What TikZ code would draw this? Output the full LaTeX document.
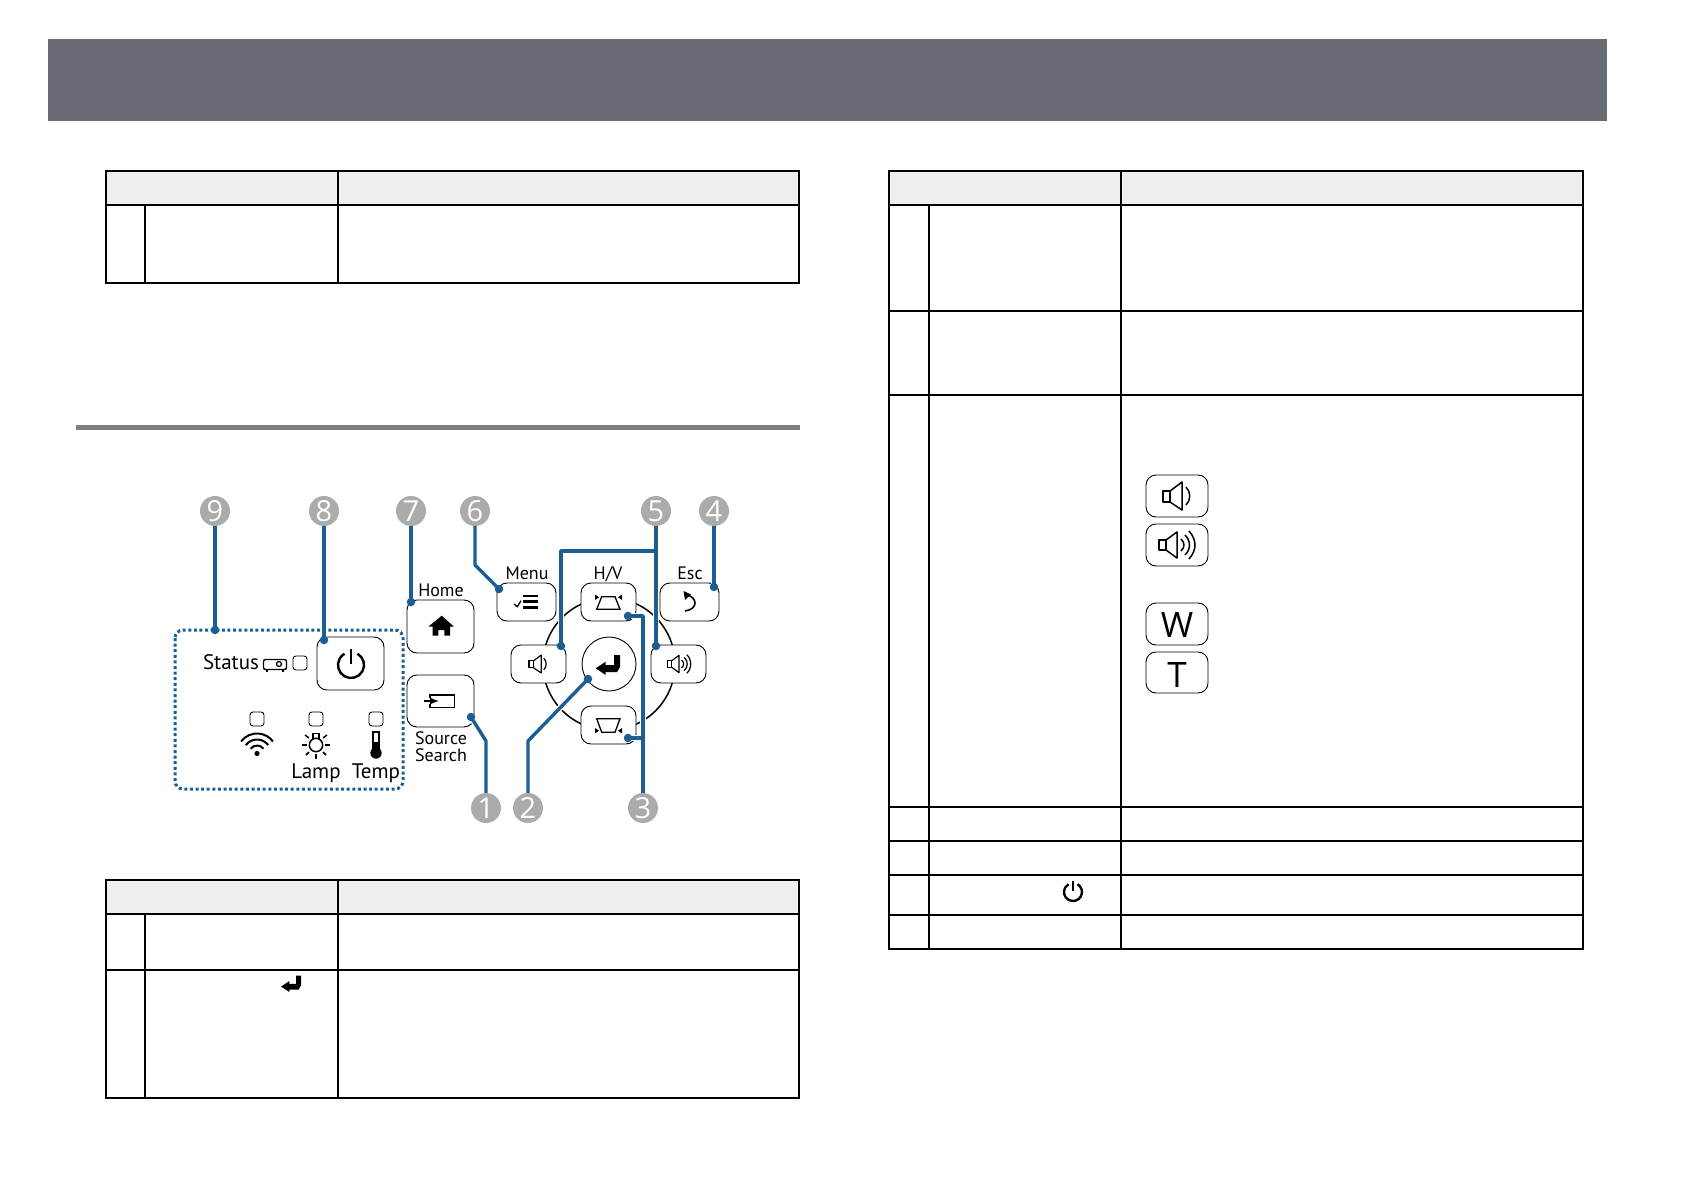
\documentclass[tikz,border=0pt]{standalone}
\usepackage{fontspec}
\usepackage{xcolor}
\setmainfont{Open Sans}
\newfontfamily\keyfont{PT Sans}
\definecolor{bandgrey}{HTML}{686B73}
\definecolor{rulegrey}{HTML}{808080}
\definecolor{headgrey}{HTML}{EFEFEF}
\definecolor{badgegrey}{HTML}{ABABAB}
\definecolor{leadblue}{HTML}{1A5E94}
\tikzset{
  cell/.style={draw=black, line width=2pt},
  head/.style={fill=headgrey, draw=black, line width=2pt},
  badge/.style={circle, fill=badgegrey, text=white, inner sep=0pt, minimum size=30pt, font=\fontsize{29}{29}\selectfont},
  leaddot/.style={circle, fill=leadblue, inner sep=0pt, minimum size=8.5pt},
  leaderbare/.style={draw=leadblue, line width=3.4pt, line join=round},
  leader/.style={leaderbare, preaction={draw=white, line width=6pt}},
  keybox/.style={draw=black, line width=0.9pt, rounded corners=10pt, fill=white},
  led/.style={draw=black, line width=0.9pt, rounded corners=3pt, fill=white, minimum size=14pt, inner sep=0pt},
  keylabel/.style={inner sep=0pt, font=\keyfont\fontsize{18}{18}\selectfont},
  biglabel/.style={inner sep=0pt, font=\keyfont\fontsize{21}{21}\selectfont},
  glyph/.style={draw=black, line width=1.5pt, line join=round},
  powericon/.pic={
    \draw[line width=2.4pt] (-60:1) arc[start angle=-60, end angle=240, radius=1];
    \draw[line width=2.6pt] (0,-1.25) -- (0,-0.1);
  },
  entericon/.pic={
    \fill (-13.3,4.3) -- (-3.3,-2.3) -- (-3.3,1) -- (5,1) -- (5,-9) -- (11,-9) -- (11,3) -- (8,8) -- (-3.3,8) -- (-3.3,11) -- cycle;
  },
  voldown/.pic={
    \draw[glyph] (-14,-5) rectangle (-7,6);
    \draw[glyph] (-7,-5) -- (5,-14) -- (5,14) -- (-7,6);
    \draw[glyph] (9,-9) .. controls (14,-4) and (14,4) .. (9,9);
  },
  volup/.pic={
    \draw[glyph] (-18,-5) rectangle (-11,5);
    \draw[glyph] (-11,-5) -- (0,-13) -- (0,13) -- (-11,5);
    \draw[glyph] (4,-6) .. controls (8,-2) and (8,2) .. (4,6);
    \draw[glyph] (8,-10) .. controls (14,-4) and (14,4) .. (8,10);
    \draw[glyph] (12,-14) .. controls (20,-5) and (20,5) .. (12,14);
  },
}
\begin{document}
\begin{tikzpicture}[x=1pt,y=-1pt]
\useasboundingbox (0,0) rectangle (1684,1190);

% page band and section rule
\fill[bandgrey] (48,39) rectangle (1607,121);
\fill[rulegrey] (76,425) rectangle (800,430);

% left tables
\draw[head] (106,171) rectangle (338,205);
\draw[head] (338,171) rectangle (799,205);
\draw[cell] (106,205) rectangle (799,283);
\draw[cell] (145,205) -- (145,283);
\draw[cell] (338,205) -- (338,283);

\draw[head] (106,880) rectangle (338,914);
\draw[head] (338,880) rectangle (799,914);
\draw[cell] (106,914) rectangle (799,1098);
\draw[cell] (106,970) -- (799,970);
\draw[cell] (145,914) -- (145,1098);
\draw[cell] (338,914) -- (338,1098);
\pic[scale=0.82] at (292,983) {entericon};

% right table
\draw[head] (889,171) rectangle (1121,205);
\draw[head] (1121,171) rectangle (1583,205);
\draw[cell] (889,205) rectangle (1583,949);
\draw[cell] (889,311) -- (1583,311);
\draw[cell] (889,395) -- (1583,395);
\draw[cell] (889,807) -- (1583,807);
\draw[cell] (889,841) -- (1583,841);
\draw[cell] (889,875) -- (1583,875);
\draw[cell] (889,915) -- (1583,915);
\draw[cell] (929,205) -- (929,949);
\draw[cell] (1121,205) -- (1121,949);
\pic[scale=9] at (1073,892) {powericon};

\draw[keybox] (1146,475) rectangle (1208,517);
\draw[keybox] (1146,524) rectangle (1208,566);
\draw[keybox] (1146,603) rectangle (1208,645);
\draw[keybox] (1146,652) rectangle (1208,693);
\pic at (1177,496) {voldown};
\pic at (1177,545) {volup};
\node[inner sep=0pt, font=\fontsize{35}{35}\selectfont] (keyw) at (1177,625) {W};
\node[inner sep=0pt, font=\fontsize{35}{35}\selectfont] (keyt) at (1177,675) {T};

% control panel
\draw[leadblue, line width=3pt, dash pattern=on 3pt off 2.6pt, rounded corners=8pt] (175,630) rectangle (403,789);
\draw[black, line width=1.5pt] (609,664) circle (66);

\draw[keybox] (317,637) rectangle (384,690);
\draw[keybox] (407,600) rectangle (474,653);
\draw[keybox] (407,675) rectangle (474,727);
\draw[keybox] (497,583) rectangle (556,621);
\draw[keybox] (581,583) rectangle (636,621);
\draw[keybox] (660,583) rectangle (719,621);
\draw[keybox] (511,645) rectangle (566,683);
\draw[keybox] (651,645) rectangle (706,683);
\draw[keybox] (581,706) rectangle (636,744);
\draw[black, line width=0.9pt, fill=white] (609,664) circle (27);

\node[biglabel] (status) at (231,662) {Status};
\node[keylabel] (home) at (441,590) {Home};
\node[keylabel] (source) at (441,738) {Source};
\node[keylabel] (search) at (441,755) {Search};
\node[keylabel] (menu) at (527,573) {Menu};
\node[keylabel] (hv) at (608,574) {H/V};
\node[keylabel] (esc) at (690,573) {Esc};
\node[biglabel] (lamp) at (316,773) {Lamp};
\node[biglabel] (temp) at (376,773) {Temp};

\node[led] (ledstatus) at (300,663) {};
\node[led] (ledwifi) at (257,719) {};
\node[led] (ledlamp) at (316,719) {};
\node[led] (ledtemp) at (376,719) {};

% status glyphs
\draw[black, line width=1.4pt, rounded corners=2pt] (263.5,659.5) rectangle (286.5,669.5);
\draw[black, line width=1.3pt] (279,664) circle (2.5);
\draw[black, line width=1.4pt] (267,670) -- (267,672);
\draw[black, line width=1.4pt] (283,670) -- (283,672);

\fill (257,753.5) circle (2.6);
\draw[line width=2pt] (257,753.5) ++(-143:8) arc[start angle=-143, end angle=-37, radius=8];
\draw[line width=2pt] (257,753.5) ++(-143:14) arc[start angle=-143, end angle=-37, radius=14];
\draw[line width=2pt] (257,753.5) ++(-143:20) arc[start angle=-143, end angle=-37, radius=20];

\draw[line width=1.5pt] (316,745) circle (6.7);
\draw[line width=1.5pt] (313,739) -- (313,733.5) -- (319,733.5) -- (319,739);
\foreach \ax/\ay/\bx/\by in {-14/0/-9/0, 9/0/14/0, 0/9/0/14, -11/-10/-7/-7, 11/-10/7/-7, -10/10/-7/7, 10/10/7/7}
  \draw[line width=1.5pt] (316+\ax,745+\ay) -- (316+\bx,745+\by);

\fill (376,753) circle (5.7);
\draw[line width=1.2pt] (373,750) -- (373,732) -- (379,732) -- (379,750);
\fill (373,742) rectangle (379,750);

% key glyphs
\pic[scale=13] at (351,665) {powericon};
\fill (441.7,615.7) -- (454,626.7) -- (450,626.7) -- (450,635.7) -- (444.3,635.7) -- (444.3,630) -- (438.3,630) -- (438.3,635.7) -- (432.7,635.7) -- (432.7,626.7) -- (428.3,626.7) -- cycle;
\draw[black, line width=1.3pt] (430,698) -- (430,695) -- (454.3,695) -- (454.3,707.7) -- (430,707.7) -- (430,704);
\draw[black, line width=2pt, -latex] (424.3,701) -- (439,701);
\draw[line width=2.6pt] (523,596) -- (538,596);
\draw[line width=2.6pt] (523,601.7) -- (538,601.7);
\draw[line width=2.6pt] (523,607.7) -- (538,607.7);
\draw[line width=1.3pt] (514,604) -- (517.3,606.7) -- (521,600.7);
\draw[line width=1.3pt] (601.7,596.7) -- (615,596.7) -- (620,609.3) -- (596.7,609.3) -- cycle;
\fill (595,594.5) -- (599,597.3) -- (595,600) -- cycle;
\fill (622,594.5) -- (618,597.3) -- (622,600) -- cycle;
\draw[line width=1.3pt] (596.7,718.7) -- (620,718.7) -- (615,732.3) -- (601.7,732.3) -- cycle;
\fill (595,728) -- (599,730.7) -- (595,733.5) -- cycle;
\fill (622,728) -- (618,730.7) -- (622,733.5) -- cycle;
\draw[line width=1.6pt] (687,595) .. controls (697,597) and (699,609) .. (685,611);
\fill (683.5,591) -- (691,594.5) -- (685,600) -- cycle;
\pic at (609,664) {entericon};
\pic[scale=0.64, glyph/.style={draw=black, line width=1.2pt, line join=round}] at (538,664) {voldown};
\pic[scale=0.66, glyph/.style={draw=black, line width=1.2pt, line join=round}] at (679,664) {volup};

% callouts
\node[badge] (n9) at (215,511) {9};
\node[badge] (n8) at (324,511) {8};
\node[badge] (n7) at (411,511) {7};
\node[badge] (n6) at (475,511) {6};
\node[badge] (n5) at (656,511) {5};
\node[badge] (n4) at (714,511) {4};
\node[badge] (n1) at (486,808) {1};
\node[badge] (n2) at (528,808) {2};
\node[badge] (n3) at (643,808) {3};

\coordinate (d9) at (215,630);
\coordinate (d8) at (324,640);
\coordinate (d7) at (411,602);
\coordinate (d6) at (499,589);
\coordinate (d5a) at (561,646);
\coordinate (d5b) at (656,646);
\coordinate (d4) at (714,587);
\coordinate (d1) at (471,717);
\coordinate (d2) at (588,679);
\coordinate (d3a) at (628,616);
\coordinate (d3b) at (628,738);

\coordinate (b6) at (475,565);
\coordinate (j5) at (656,551);
\coordinate (b5) at (561,551);
\coordinate (b1) at (486,741);
\coordinate (b2) at (528,741);
\coordinate (b3) at (643,616);
\coordinate (j3) at (643,738);

\draw[leader] (n9) -- (d9);
\draw[leader] (n8) -- (d8);
\draw[leader] (n7) -- (d7);
\draw[leader] (n6) -- (b6) -- (d6);
\draw[leader] (j5) -- (b5) -- (d5a);
\draw[leader] (n5) -- (d5b);
\draw[leaderbare] (j5) -- (b5);
\draw[leader] (n4) -- (d4);
\draw[leader] (n1) -- (b1) -- (d1);
\draw[leader] (n2) -- (b2) -- (d2);
\draw[leader] (j3) -- (d3b);
\draw[leader] (n3) -- (b3) -- (d3a);
\draw[leaderbare] (j3) -- (d3b);

\node[leaddot] at (d9) {};
\node[leaddot] at (d8) {};
\node[leaddot] at (d7) {};
\node[leaddot] at (d6) {};
\node[leaddot] at (d5a) {};
\node[leaddot] at (d5b) {};
\node[leaddot] at (d4) {};
\node[leaddot] at (d1) {};
\node[leaddot] at (d2) {};
\node[leaddot] at (d3a) {};
\node[leaddot] at (d3b) {};
\end{tikzpicture}
\end{document}
